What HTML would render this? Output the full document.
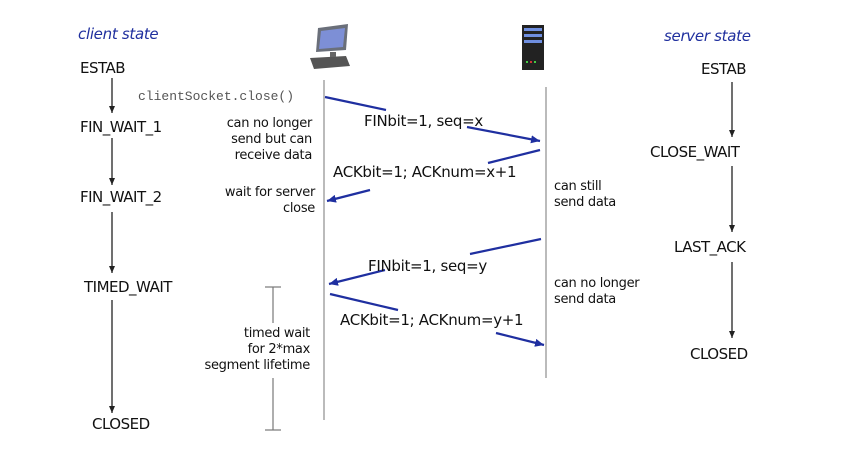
<!DOCTYPE html>
<html><head><style>
body{margin:0;width:854px;height:455px;background:#fff;overflow:hidden;position:relative;font-family:"DejaVu Sans","Liberation Sans",sans-serif;}
.t{position:absolute;font-size:14px;color:#111;white-space:nowrap;letter-spacing:-0.3px}
.s{font-size:15px;letter-spacing:-0.5px}
.r{text-align:right}
.b{color:#1f2f9e;font-style:italic;font-size:15px}
.m{font-family:"Liberation Mono",monospace;color:#555;font-size:13px;letter-spacing:0}
svg{position:absolute;left:0;top:0}
</style></head><body>
<svg width="854" height="455">
<defs>
<marker id="k" markerWidth="8" markerHeight="8" refX="7" refY="4" orient="auto" markerUnits="userSpaceOnUse"><path d="M0,1 L7,4 L0,7z" fill="#222"/></marker>
<marker id="bl" markerWidth="10" markerHeight="10" refX="9" refY="5" orient="auto" markerUnits="userSpaceOnUse"><path d="M0,1 L9,5 L0,9z" fill="#1f2fa0"/></marker>
</defs>
<g stroke="#bbb" stroke-width="2"><line x1="324" y1="80" x2="324" y2="420"/><line x1="546" y1="87" x2="546" y2="378"/></g>
<g stroke="#222" stroke-width="1.3" fill="none">
<line x1="112" y1="78" x2="112" y2="113" marker-end="url(#k)"/>
<line x1="112" y1="138" x2="112" y2="185" marker-end="url(#k)"/>
<line x1="112" y1="212" x2="112" y2="273" marker-end="url(#k)"/>
<line x1="112" y1="300" x2="112" y2="413" marker-end="url(#k)"/>
<line x1="732" y1="82" x2="732" y2="137" marker-end="url(#k)"/>
<line x1="732" y1="166" x2="732" y2="232" marker-end="url(#k)"/>
<line x1="732" y1="262" x2="732" y2="338" marker-end="url(#k)"/>
</g>
<g stroke="#777" stroke-width="1.2">
<line x1="265" y1="287" x2="281" y2="287"/><line x1="273" y1="287" x2="273" y2="323"/>
<line x1="273" y1="378" x2="273" y2="430"/><line x1="265" y1="430" x2="281" y2="430"/>
</g>
<g stroke="#1f2fa0" stroke-width="2.2" fill="none">
<line x1="325" y1="97" x2="386" y2="110"/><line x1="467" y1="127" x2="540" y2="141" marker-end="url(#bl)"/>
<line x1="540" y1="150" x2="488" y2="163"/><line x1="370" y1="190" x2="327" y2="201" marker-end="url(#bl)"/>
<line x1="541" y1="239" x2="470" y2="254"/><line x1="385" y1="270" x2="329" y2="284" marker-end="url(#bl)"/>
<line x1="330" y1="294" x2="398" y2="310"/><line x1="496" y1="333" x2="544" y2="345" marker-end="url(#bl)"/>
</g>
<g>
<polygon points="318,28 348,24 346,50 316,52" fill="#6a6f7a"/>
<polygon points="321,31 345,28 343,47 319,49" fill="#7d8fd6"/>
<polygon points="310,58 346,56 350,66 314,69" fill="#555"/>
<rect x="330" y="52" width="6" height="5" fill="#666"/>
</g>
<g>
<rect x="522" y="25" width="22" height="45" fill="#222"/>
<rect x="524" y="28" width="18" height="3" fill="#6f8fe0"/>
<rect x="524" y="34" width="18" height="3" fill="#6f8fe0"/>
<rect x="524" y="40" width="18" height="3" fill="#6f8fe0"/>
<rect x="526" y="61" width="2" height="2" fill="#4c4"/><rect x="530" y="61" width="2" height="2" fill="#c33"/><rect x="534" y="61" width="2" height="2" fill="#4c4"/>
</g>
</svg>
<div class="t b" style="left:78px;top:25px">client state</div>
<div class="t b" style="left:664px;top:27px">server state</div>
<div class="t s" style="left:80px;top:59px">ESTAB</div>
<div class="t s" style="left:80px;top:118px">FIN_WAIT_1</div>
<div class="t s" style="left:80px;top:188px">FIN_WAIT_2</div>
<div class="t s" style="left:84px;top:278px">TIMED_WAIT</div>
<div class="t s" style="left:92px;top:415px">CLOSED</div>
<div class="t s" style="left:701px;top:60px">ESTAB</div>
<div class="t s" style="left:650px;top:143px">CLOSE_WAIT</div>
<div class="t s" style="left:674px;top:238px">LAST_ACK</div>
<div class="t s" style="left:690px;top:345px">CLOSED</div>
<div class="t m" style="left:138px;top:89px">clientSocket.close()</div>
<div class="t r" style="left:200px;top:116px;width:112px;font-size:13px;line-height:16px">can no longer<br>send but can<br>receive data</div>
<div class="t r" style="left:200px;top:185px;width:115px;font-size:13px;line-height:16px">wait for server<br>close</div>
<div class="t r" style="left:190px;top:326px;width:120px;font-size:13px;line-height:16px">timed wait<br>for 2*max<br>segment lifetime</div>
<div class="t" style="left:554px;top:179px;font-size:13px;line-height:16px">can still<br>send data</div>
<div class="t" style="left:554px;top:276px;font-size:13px;line-height:16px">can no longer<br>send data</div>
<div class="t" style="left:364px;top:112px;font-size:15px">FINbit=1, seq=x</div>
<div class="t" style="left:333px;top:163px;font-size:15px">ACKbit=1; ACKnum=x+1</div>
<div class="t" style="left:368px;top:257px;font-size:15px">FINbit=1, seq=y</div>
<div class="t" style="left:340px;top:311px;font-size:15px">ACKbit=1; ACKnum=y+1</div>
</body></html>
